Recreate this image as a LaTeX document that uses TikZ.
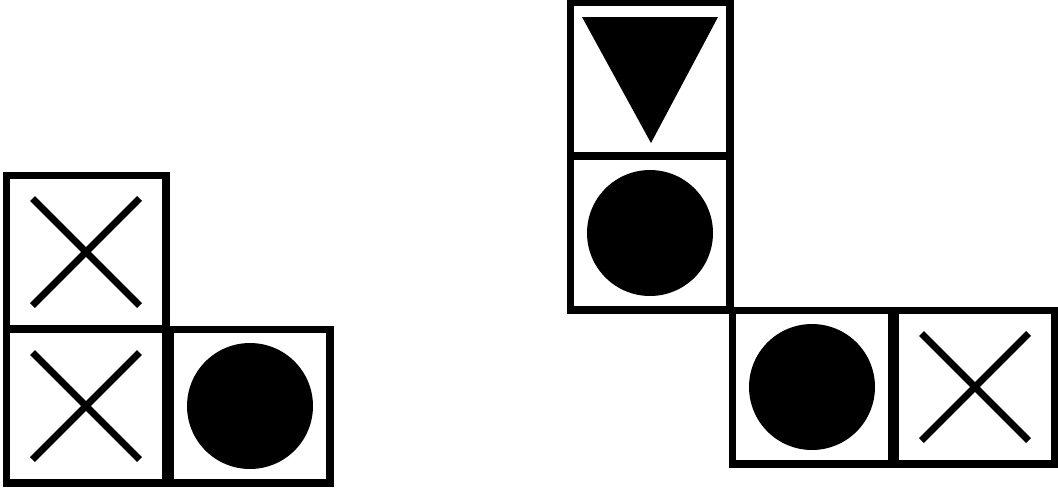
\documentclass[tikz,border=0pt]{standalone}
\usetikzlibrary{shapes.misc}

\begin{document}
\begin{tikzpicture}[x=0.02cm, y=-0.02cm]
  \tikzset{cell/.style={draw, line width=4pt, minimum width=3.2cm, minimum height=3.08cm, inner sep=0pt},
           xmark/.style={cross out, draw, line width=4pt, minimum size=2cm, inner sep=0pt},
           dot/.style={circle, fill, minimum size=2.52cm, inner sep=0pt}}
  \useasboundingbox (0,0) rectangle (1058,488);
  \foreach \n/\x/\y in {a/86/252, b/86/406, c/250/406,
                        d/650/79, e/650/233, f/812/387, g/975/387}{
    \node[cell] (\n) at (\x,\y) {};}
  \foreach \c in {a,b,g}{
    \node[xmark] at (\c) {};}
  \foreach \c in {c,e,f}{
    \node[dot] at (\c) {};}
  \fill (d.center) ++(-68,-62) -- ++(136,0) -- ++(-67,126) -- cycle;
\end{tikzpicture}
\end{document}
